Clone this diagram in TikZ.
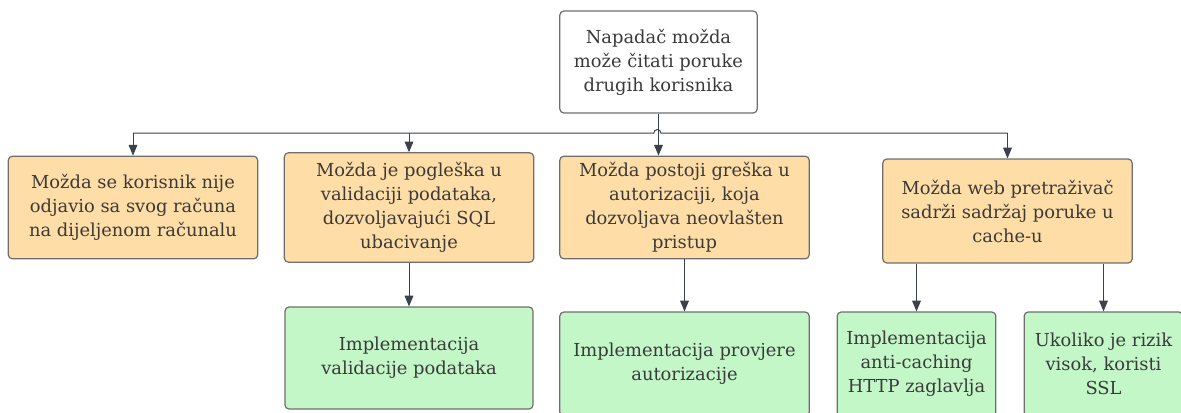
\documentclass[tikz,border=0pt]{standalone}
\usepackage{fontspec}
\setmainfont{DejaVu Serif}
\usepackage{tikz}
\usetikzlibrary{arrows.meta, positioning}
\definecolor{narancasta}{HTML}{FFDDA6}
\definecolor{zelena}{HTML}{C3F7C8}
\definecolor{rub}{HTML}{6E6E6E}
\definecolor{strelica}{HTML}{3A414A}
\definecolor{tekst}{HTML}{3A3A3A}

\begin{document}
\begin{tikzpicture}[x=0.75pt, y=-0.75pt,
    kutija/.style={draw=rub, line width=0.9pt, rounded corners=3pt, align=center,
        text=tekst, font=\fontsize{13.4}{18}\selectfont, inner sep=0pt},
    uzrok/.style={kutija, fill=narancasta, minimum width=187pt},
    mjera/.style={kutija, fill=zelena},
    veza/.style={-{Triangle[length=8pt, width=6.5pt]}, strelica, line width=0.75pt},
    linija/.style={strelica, line width=0.75pt}]
    \useasboundingbox (0,0) rectangle (1181,412);

    % vrh
    \node[kutija, fill=white, minimum width=148pt, minimum height=76.5pt] (vrh) at (658.5,62)
        {Napadač možda\\može čitati poruke\\drugih korisnika};

    % uzroci
    \node[uzrok, minimum height=77pt] (u1) at (133,207.5)
        {Možda se korisnik nije\\odjavio sa svog računa\\na dijeljenom računalu};
    \node[uzrok, minimum height=82pt] (u2) at (409,207.5)
        {Možda je pogleška u\\validaciji podataka,\\dozvoljavajući SQL\\ubacivanje};
    \node[uzrok, minimum height=77pt] (u3) at (684.5,207.5)
        {Možda postoji greška u\\autorizaciji, koja\\dozvoljava neovlašten\\pristup};
    \node[uzrok, minimum height=78pt] (u4) at (1007.5,211)
        {Možda web pretraživač\\sadrži sadržaj poruke u\\cache-u};

    % mjere
    \node[mjera, minimum width=186pt, minimum height=76.5pt] (m1) at (409,358)
        {Implementacija\\validacije podataka};
    \node[mjera, minimum width=187pt, minimum height=78pt] (m2) at (684.5,364)
        {Implementacija provjere\\autorizacije};
    \node[mjera, minimum width=119pt, minimum height=78pt] (m3) at (916.5,364)
        {Implementacija\\anti-caching\\HTTP zaglavlja};
    \node[mjera, minimum width=119pt, minimum height=78pt] (m4) at (1103.5,364)
        {Ukoliko je rizik\\visok, koristi\\SSL};

    % veze od vrha
    \coordinate (spoj) at (658.5,133);
    \draw[linija] (u1.north |- spoj) -- ([xshift=-3.5]spoj)
        arc[start angle=180, end angle=360, radius=3.5] -- (u4.north |- spoj);
    \draw[veza] (vrh.south) -- (vrh.south |- u3.north);
    \foreach \u in {u1, u2, u4}
        \draw[veza] (\u.north |- spoj) -- (\u.north);

    % veze do mjera
    \draw[veza] (u2.south) -- (m1.north);
    \draw[veza] (u3.south) -- (m2.north);
    \draw[veza] (u4.south -| m3.north) -- (m3.north);
    \draw[veza] (u4.south -| m4.north) -- (m4.north);
\end{tikzpicture}
\end{document}
